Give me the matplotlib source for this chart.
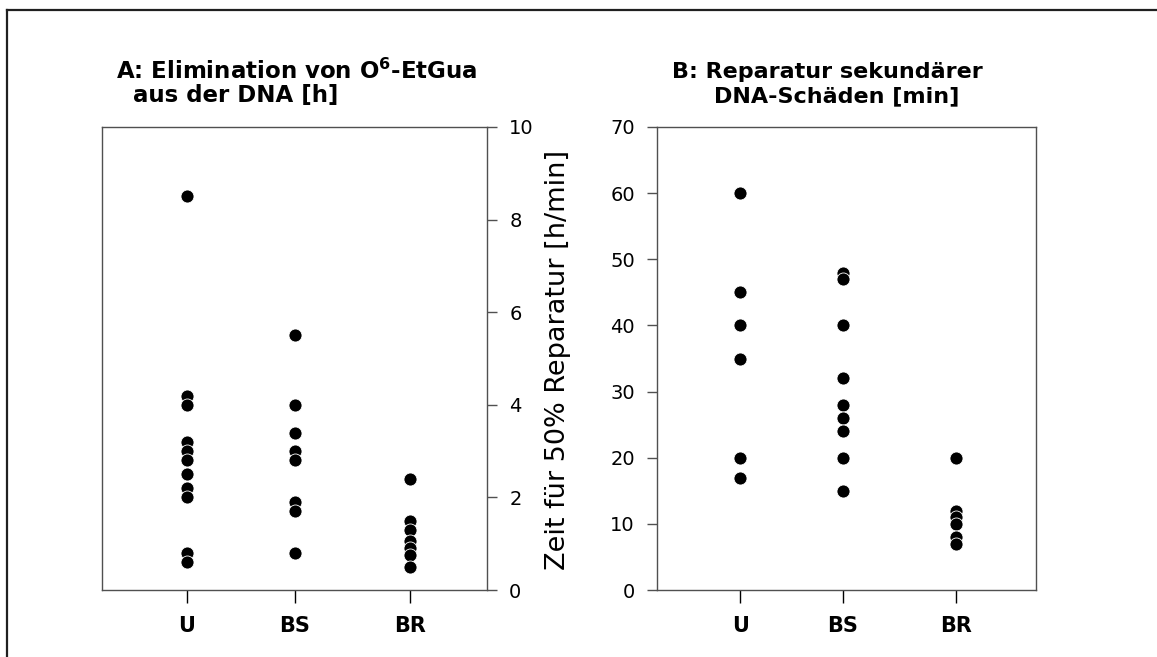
import matplotlib
matplotlib.use('Agg')
import matplotlib.pyplot as plt
from matplotlib.lines import Line2D

plt.rcParams['font.family'] = ['DejaVu Sans']
plt.rcParams['mathtext.fontset'] = 'dejavusans'

# ---- data ----
categories = ['U', 'BS', 'BR']
a_U = [8.5, 4.2, 4.0, 3.2, 3.0, 2.8, 2.5, 2.2, 2.0, 0.8, 0.6]
a_BS = [5.5, 4.0, 3.4, 3.0, 2.8, 1.9, 1.7, 0.8]
a_BR = [2.4, 1.5, 1.3, 1.05, 0.9, 0.75, 0.5]
b_U = [60, 45, 40, 35, 20, 17]
b_BS = [48, 47, 40, 32, 28, 26, 24, 20, 15]
b_BR = [20, 12, 11, 10, 8, 7]
a_ticks = [0, 2, 4, 6, 8, 10]
b_ticks = [0, 10, 20, 30, 40, 50, 60, 70]

title_a1 = r'A: Elimination von O$^{\mathbf{6}}$-EtGua'
title_a2 = 'aus der DNA [h]'
title_b1 = 'B: Reparatur sekundärer'
title_b2 = 'DNA-Schäden [min]'
ylabel = 'Zeit für 50% Reparatur [h/min]'

# ---- layout ----
W, H = 1157, 657
fig = plt.figure(figsize=(W / 100, H / 100), dpi=100)
fig.patch.set_facecolor('white')

def fx(px):
    return px / W

def fy(py):
    return 1 - py / H

axA = fig.add_axes([fx(102), fy(590), 385 / W, 463 / H])
axB = fig.add_axes([fx(657), fy(590), 379 / W, 463 / H])

pos_a = [0.66, 1.5, 2.4]
pos_b = [0.66, 1.47, 2.37]
spine_col = '#505050'

def style(ax, pos, ticks, ylim):
    ax.set_xlim(0, 3)
    ax.set_ylim(*ylim)
    ax.set_yticks(ticks)
    ax.set_xticks(pos)
    ax.set_xticklabels(categories, fontweight='bold', fontsize=15)
    ax.tick_params(axis='x', direction='out', length=9.5, width=1,
                   color='black', pad=9)
    ax.tick_params(axis='y', direction='out', length=7, width=1,
                   color=spine_col, labelsize=14, pad=9)
    for s in ax.spines.values():
        s.set_color(spine_col)
        s.set_linewidth(1.0)

ms = 88
for ax, pos, series in [(axA, pos_a, [a_U, a_BS, a_BR]),
                        (axB, pos_b, [b_U, b_BS, b_BR])]:
    for p, vals in zip(pos, series):
        ax.scatter([p] * len(vals), vals, s=ms, c='black',
                   edgecolors='white', linewidths=0.6, zorder=3)

style(axA, pos_a, a_ticks, (0, 10))
axA.yaxis.tick_right()
style(axB, pos_b, b_ticks, (0, 70))

# titles
fig.text(fx(116), fy(79), title_a1, fontsize=16.5, fontweight='bold',
         ha='left', va='baseline')
fig.text(fx(133), fy(102), title_a2, fontsize=16.5, fontweight='bold',
         ha='left', va='baseline')
fig.text(fx(672), fy(78), title_b1, fontsize=16, fontweight='bold',
         ha='left', va='baseline')
fig.text(fx(714), fy(102), title_b2, fontsize=16, fontweight='bold',
         ha='left', va='baseline')

fig.text(fx(558), fy(360), ylabel, rotation=90, fontsize=19.5,
         ha='center', va='center')

# outer frame (left and top edges)
fig.add_artist(Line2D([fx(7), fx(7)], [fy(10), fy(700)], color='#202020',
                      lw=1.6, transform=fig.transFigure))
fig.add_artist(Line2D([fx(7), fx(1200)], [fy(10), fy(10)], color='#202020',
                      lw=1.6, transform=fig.transFigure))

fig.savefig('out.png', dpi=100, facecolor='white')
